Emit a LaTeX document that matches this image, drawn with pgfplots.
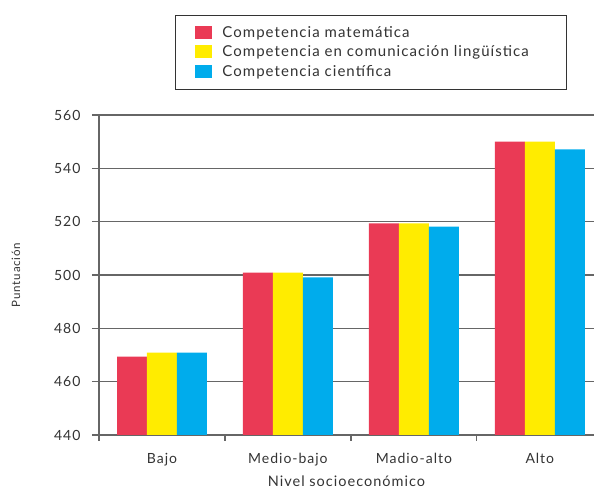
\documentclass[border=0pt]{standalone}
\usepackage{pgfplots}
\pgfplotsset{compat=1.18}
\usepackage{fontspec}
\setmainfont[LetterSpace=7]{Lato}
\definecolor{cred}{HTML}{EA3A55}
\definecolor{cyel}{HTML}{FFEC00}
\definecolor{cblu}{HTML}{00ACEC}
\definecolor{gridc}{HTML}{666666}
\begin{document}
\begin{tikzpicture}
\begin{axis}[
  name=ax,
  scale only axis,
  width=495pt, height=320pt,
  ybar=0pt,
  bar width=0.238,
  xmin=-0.5, xmax=3.43,
  ymin=440, ymax=560,
  ytick={440,460,...,560},
  ymajorgrids,
  grid style={gridc, line width=1.2pt},
  axis x line*=bottom,
  axis y line*=left,
  axis line style={gridc, line width=1.3pt},
  y axis line style={-}, x axis line style={-},
  xtick={0,1,2,3},
  xticklabels={Bajo, Medio-bajo, Madio-alto, Alto},
  minor xtick={-0.5,0.5,1.5,2.5},
  major x tick style={draw=none},
  minor x tick style={gridc, line width=1.2pt},
  tick align=outside,
  minor tick length=6pt,
  major tick length=7pt,
  y tick style={gridc, line width=1.2pt},
  /pgf/number format/assume math mode=true,
  tick label style={font=\fontsize{14}{16}\selectfont, text=black!80},
  xticklabel style={yshift=-8pt},
  yticklabel style={xshift=-8pt},
  xlabel={Nivel socioeconómico},
  ylabel={Puntuación},
  xlabel style={font=\fontsize{14.5}{16}\selectfont, text=black!80, yshift=-3pt},
  ylabel style={font=\fontsize{11.5}{13}\selectfont, text=black!80, yshift=27pt},
  legend style={
    at={(0.1535,1.3125)}, anchor=north west,
    draw=black!80, line width=0.8pt,
    font=\fontsize{15}{16}\selectfont, text=black!80,
    inner xsep=20pt, inner ysep=9pt,
    row sep=3pt,
    cells={anchor=west},
  },
  legend cell align=left,
  legend image code/.code={\fill[#1,draw=none] (0pt,-6pt) rectangle (17pt,7pt); \path (25pt,0pt);},
]
\addplot[fill=cred, draw=none] coordinates {(0,469.4) (1,500.9) (2,519.4) (3,550.0)};
\addplot[fill=cyel, draw=none] coordinates {(0,470.9) (1,500.9) (2,519.4) (3,550.0)};
\addplot[fill=cblu, draw=none] coordinates {(0,470.9) (1,499.1) (2,518.1) (3,547.1)};
\legend{Competencia matemática, Competencia en comunicación lingüística\hspace*{16pt}, Competencia científica}
\end{axis}
\pgfresetboundingbox
\path[use as bounding box] ([xshift=-99pt,yshift=-56pt]ax.south west) rectangle ([yshift=115pt]ax.north east);
\end{tikzpicture}
\end{document}
